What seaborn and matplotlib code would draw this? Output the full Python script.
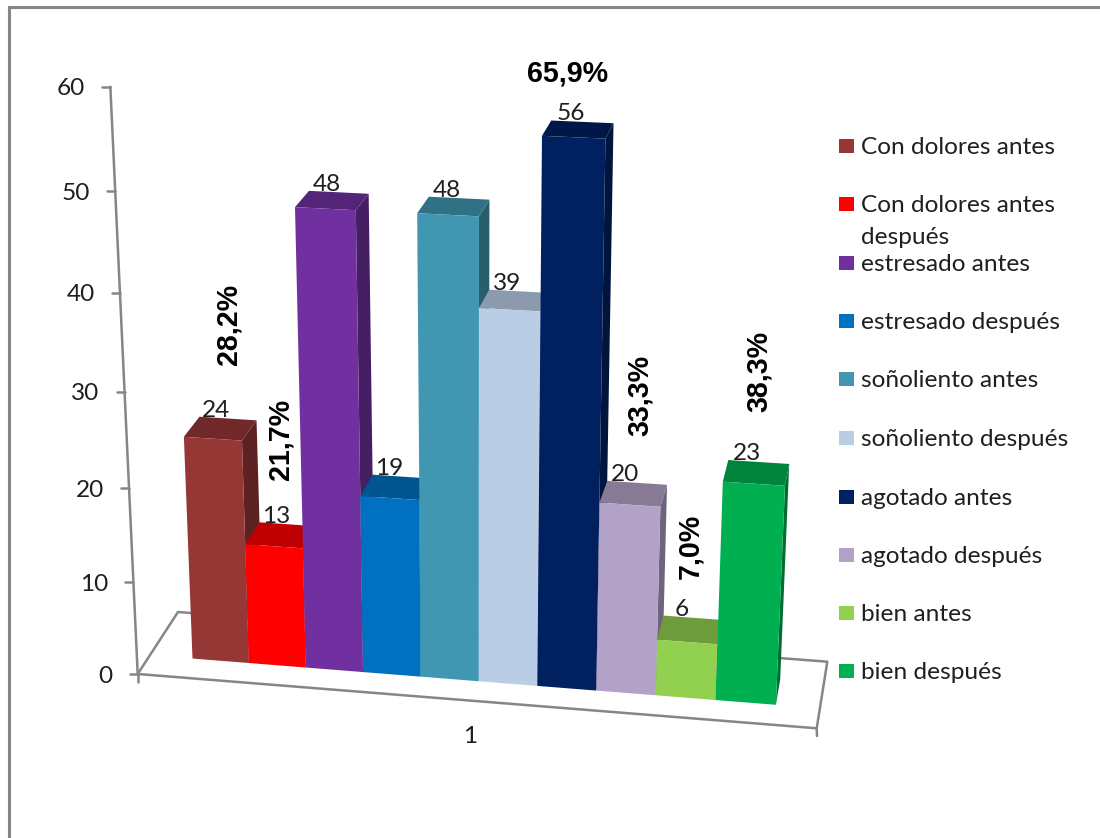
import numpy as np
import pandas as pd
import matplotlib
matplotlib.use("Agg")
import matplotlib.pyplot as plt
from matplotlib.patches import Polygon, Rectangle
from matplotlib.transforms import Transform
import seaborn as sns

# Survey results: people per condition, before and after
categories = ["Con dolores antes", "Con dolores antes\ndespués", "estresado antes",
              "estresado después", "soñoliento antes", "soñoliento después",
              "agotado antes", "agotado después", "bien antes", "bien después"]
values = [24, 13, 48, 19, 48, 39, 56, 20, 6, 23]
colors = ["#953735", "#FF0000", "#7030A0", "#0070C0", "#4197B2",
          "#B9CDE5", "#002060", "#B3A2C7", "#92D050", "#00B050"]
y_ticks = [0, 10, 20, 30, 40, 50, 60]
percent_labels = ["28,2%", "21,7%", "65,9%", "33,3%", "7,0%", "38,3%"]
group_label = "1"

SANS = ["Lato", "DejaVu Sans"]
TEXT = "#1f1f1f"
FRAME = "#868686"
LABEL_SIZE = 17.6

sns.set_theme(style="white")
plt.rcParams["font.family"] = SANS

# Oblique camera: (bar position, value, depth) -> canvas pixel, solved from
# reference points on the box corners of the 3D scene.
scene = np.array([
    (-.5, 0, 0), (.5, 0, 0), (-.5, 24, 0), (.5, 24, 0), (-.5, 24, 1), (.5, 24, 1),
    (1.5, 0, 0), (2.5, 0, 0), (1.5, 48, 0), (2.5, 48, 0), (1.5, 48, 1), (2.5, 48, 1),
    (3.5, 48, 0), (4.5, 48, 0), (3.5, 48, 1), (4.5, 48, 1),
    (5.5, 0, 0), (6.5, 0, 0), (5.5, 56, 0), (6.5, 56, 0), (5.5, 56, 1), (6.5, 56, 1),
    (8.5, 0, 0), (9.5, 0, 0), (8.5, 23, 0), (9.5, 23, 0), (8.5, 23, 1), (9.5, 23, 1),
], dtype=float)
canvas = np.array([
    (192.7, 658), (249.3, 662.7), (184, 437.3), (241.7, 440.7), (198.3, 416.7), (256.7, 420.7),
    (305.7, 667), (363, 671.3), (295, 206.7), (356, 210), (310, 191), (368.3, 194),
    (416.7, 213.3), (479.3, 215.7), (429.3, 196.7), (489.3, 200),
    (537, 688), (597, 692), (541.7, 135.7), (605, 139.3), (551.7, 120.7), (613.3, 122.7),
    (715.3, 699.3), (775.7, 704), (723.3, 481.7), (785, 486), (728.3, 460), (789, 463.3),
], dtype=float)


def solve_camera(world, image):
    rows = []
    for (x, y, z), (u, v) in zip(world, image):
        p = [x, y, z, 1.0]
        rows.append(p + [0, 0, 0, 0] + [-u * c for c in p])
        rows.append([0, 0, 0, 0] + p + [-v * c for c in p])
    return np.linalg.svd(np.array(rows))[2][-1].reshape(3, 4)


CAMERA = solve_camera(scene, canvas)


def project(x, y, z=0.0):
    x, y = np.asarray(x, float), np.asarray(y, float)
    h = CAMERA @ np.vstack([x.ravel(), y.ravel(), np.full(x.size, z), np.ones(x.size)])
    return (h[:2] / h[2]).T


class FrontPlane(Transform):
    """Maps the (position, value) plane of the bars onto the oblique front plane."""
    input_dims = 2
    output_dims = 2
    has_inverse = False

    def transform_non_affine(self, values):
        values = np.asarray(values, float)
        return project(values[:, 0], values[:, 1])


def shade(color, factor):
    r, g, b = matplotlib.colors.to_rgb(color)
    return (r * factor, g * factor, b * factor)


df = pd.DataFrame({"posicion": np.arange(len(values)), "valor": values, "serie": categories})

fig = plt.figure(figsize=(11, 8.38), dpi=100, facecolor="white")
ax = fig.add_axes([0, 0, 1, 1])

sns.barplot(data=df, x="posicion", y="valor", hue="serie", hue_order=categories,
            palette=colors, native_scale=True, width=1, saturation=1, dodge=False,
            legend=False, linewidth=0, ax=ax)

ax.set_xlim(0, 1100)
ax.set_ylim(838, 0)
ax.axis("off")

# Bars are painted left to right, each one hiding the faces of its neighbour
plane = FrontPlane() + ax.transData
for order, bar in enumerate(ax.patches):
    x0, x1 = bar.get_x(), bar.get_x() + bar.get_width()
    h = bar.get_height()
    face = bar.get_facecolor()
    bar.set_transform(plane)
    bar.set_clip_on(False)
    bar.set_zorder(10 + order + 0.5)
    top = [project(x0, h, 0)[0], project(x1, h, 0)[0], project(x1, h, 1)[0], project(x0, h, 1)[0]]
    side = [project(x1, 0, 0)[0], project(x1, h, 0)[0], project(x1, h, 1)[0], project(x1, 0, 1)[0]]
    ax.add_patch(Polygon(side, closed=True, fc=shade(face, 0.62), ec="none", zorder=10 + order))
    ax.add_patch(Polygon(top, closed=True, fc=shade(face, 0.75), ec="none", zorder=10 + order + 0.2))
    lx, ly = project(0.5 * (x0 + x1), h, 1)[0]
    ax.annotate(str(values[order]), (lx, ly), xytext=(-12, 8), textcoords="offset pixels",
                ha="center", va="center", fontsize=LABEL_SIZE, color=TEXT, zorder=40)

# Floor outline and value axis
corner_front_left = np.array([137.7, 674.0])
floor = [(137.7, 674), (816.7, 728.3), (827.3, 661.7), (178, 612), (137.7, 674)]
ax.plot(*zip(*floor), color=FRAME, lw=1.8, zorder=2, solid_capstyle="round")
ax.plot([137.7, 137.7], [674, 682], color=FRAME, lw=1.8, zorder=2)
ax.plot([816.7, 817], [728.3, 736], color=FRAME, lw=1.8, zorder=2)

floor_h = CAMERA[:, [0, 2, 3]]
fx, fz, fw = np.linalg.solve(floor_h, [corner_front_left[0], corner_front_left[1], 1.0])
axis_x, axis_z = fx / fw, fz / fw
axis_pts = project(np.full(len(y_ticks), axis_x), np.array(y_ticks, float), axis_z)
ax.plot(axis_pts[:, 0], axis_pts[:, 1], color=FRAME, lw=1.8, zorder=2)
for (px, py), tick in zip(axis_pts, y_ticks):
    ax.plot([px - 8, px], [py, py], color=FRAME, lw=1.8, zorder=2)
    ax.text(px - 25, py + 2, str(tick), ha="right", va="center", fontsize=LABEL_SIZE, color=TEXT)

ax.text(470, 736, group_label, ha="center", va="center", fontsize=LABEL_SIZE, color=TEXT)

# Bold percentages placed beside the bars
percent_spots = [(228, 324, 90), (281, 439, 90), (568, 73, 0), (640, 395, 90), (690, 546, 90), (759, 371, 90)]
for text, (px, py, rot) in zip(percent_labels, percent_spots):
    ax.text(px, py, text, rotation=rot, ha="center", va="center", fontsize=20.6,
            fontweight="bold", family="Liberation Sans", color="black", zorder=50)

# Legend column
legend_rows = [146.3, 204.3, 263, 321, 379.5, 438, 497, 555, 613, 671]
for name, color, row in zip(categories, colors, legend_rows):
    ax.add_patch(Rectangle((839, row - 7), 15, 14, fc=color, ec="none"))
    for k, line in enumerate(name.split("\n")):
        ax.text(861, row + 1 + 32 * k, line, ha="left", va="center", fontsize=LABEL_SIZE, color=TEXT)

# Outer chart border, running off the canvas on the right and at the bottom
ax.plot([8.5, 8.5, 1100], [838, 7.5, 7.5], color=FRAME, lw=2.2, solid_joinstyle="miter", zorder=1)

fig.savefig("out.png", dpi=100)
